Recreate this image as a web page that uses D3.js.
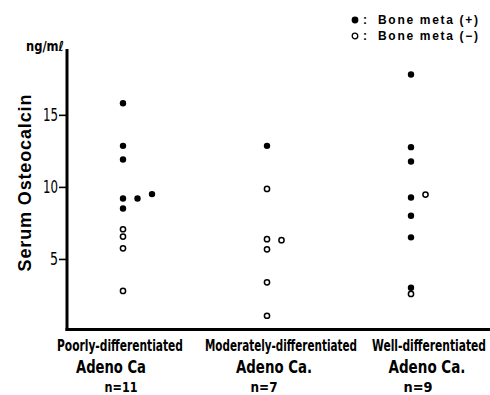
<!DOCTYPE html>
<html>
<head>
<meta charset="utf-8">
<script src="https://cdn.jsdelivr.net/npm/d3@7"></script>
<style>
  body { margin: 0; background: #fff; }
  svg { display: block; }
  .cond { font-family: "Liberation Sans Narrow", "DejaVu Sans Condensed", "Liberation Sans", sans-serif; font-stretch: condensed; }
</style>
</head>
<body>
<div id="chart"></div>
<script>
// categories and tick labels
const categories = ['Poorly', 'Moderately', 'Well'];
const yTicks = [5, 10, 15];

// values (ng/ml); meta 1 = bone meta (+), column = side-by-side slot
const poorlyValues = [15.8, 12.85, 11.9, 9.2, 9.2, 9.5, 8.5, 7.06, 6.55, 5.74, 2.78];
const poorlyMeta   = [1, 1, 1, 1, 1, 1, 1, 0, 0, 0, 0];
const poorlyColumn = [0, 0, 0, 0, 1, 2, 0, 0, 0, 0, 0];

const moderatelyValues = [12.85, 9.86, 6.37, 6.3, 5.67, 3.38, 1.06];
const moderatelyMeta   = [1, 0, 0, 0, 0, 0, 0];
const moderatelyColumn = [0, 0, 0, 1, 0, 0, 0];

const wellValues = [17.8, 12.76, 11.76, 9.26, 9.47, 8.0, 6.5, 3.0, 2.57];
const wellMeta   = [1, 1, 1, 1, 0, 1, 1, 1, 0];
const wellColumn = [0, 0, 0, 0, 1, 0, 0, 0, 0];

const labelLine1 = ['Poorly-differentiated', 'Moderately-differentiated', 'Well-differentiated'];
const labelLine2 = ['Adeno Ca', 'Adeno Ca.', 'Adeno Ca.'];
const labelLine3 = ['n=11', 'n=7', 'n=9'];

const groups = [
  { cat: 'Poorly', values: poorlyValues, meta: poorlyMeta, column: poorlyColumn },
  { cat: 'Moderately', values: moderatelyValues, meta: moderatelyMeta, column: moderatelyColumn },
  { cat: 'Well', values: wellValues, meta: wellMeta, column: wellColumn }
];

const points = [];
groups.forEach(g => {
  g.values.forEach((v, i) => points.push({ cat: g.cat, y: v, meta: g.meta[i], col: g.column[i] }));
});

const width = 490, height = 395;
const colStep = 14.5;

const svg = d3.select('#chart').append('svg')
  .attr('width', width)
  .attr('height', height);

const x = d3.scalePoint()
  .domain(categories)
  .range([123, 411]);

const y = d3.scaleLinear()
  .domain([0, 19.5])
  .range([331, 50]);

// y axis
const yAxis = d3.axisLeft(y)
  .tickValues(yTicks)
  .tickSize(8)
  .tickPadding(1);

const gy = svg.append('g')
  .attr('transform', 'translate(67,0)')
  .call(yAxis);
gy.select('.domain').remove();
gy.selectAll('.tick line').attr('stroke', '#000').attr('stroke-width', 1.6);
gy.selectAll('.tick text')
  .attr('class', 'cond')
  .style('font-size', '17px')
  .attr('fill', '#000')
  .attr('textLength', d => d < 10 ? 8 : 15)
  .attr('lengthAdjust', 'spacingAndGlyphs');

// axis lines
svg.append('line')
  .attr('x1', 67).attr('x2', 67)
  .attr('y1', 49).attr('y2', 331)
  .attr('stroke', '#000').attr('stroke-width', 3);
svg.append('line')
  .attr('x1', 65.5).attr('x2', width)
  .attr('y1', 329.5).attr('y2', 329.5)
  .attr('stroke', '#000').attr('stroke-width', 3);

// unit label
svg.append('text')
  .attr('class', 'cond')
  .attr('x', 26).attr('y', 51)
  .style('font-size', '14px')
  .style('font-weight', 'bold')
  .attr('textLength', 38)
  .attr('lengthAdjust', 'spacingAndGlyphs')
  .text('ng/mℓ');

// y title
svg.append('text')
  .attr('transform', 'translate(31,183) rotate(-90)')
  .attr('text-anchor', 'middle')
  .style('font-family', '"Liberation Sans", Arial, sans-serif')
  .style('font-size', '18px')
  .style('font-weight', 'bold')
  .attr('textLength', 177)
  .text('Serum Osteocalcin');

// points
svg.append('g').selectAll('circle')
  .data(points)
  .join('circle')
  .attr('cx', d => x(d.cat) + d.col * colStep)
  .attr('cy', d => y(d.y))
  .attr('r', d => d.meta ? 3.2 : 2.6)
  .attr('fill', d => d.meta ? '#000' : '#fff')
  .attr('stroke', '#000')
  .attr('stroke-width', d => d.meta ? 0 : 1.5);

// category labels (offsets from the category centre, widths squeezed like the condensed face)
const line1Dx = [-3, 14, 18], line1W = [126, 152, 114];
const line2Dx = [-12, 7, 16], line2W = [70, 76, 77];
const line3Dx = [-2, -3, 7], line3W = [33, 27, 29];
const labels = svg.append('g').attr('class', 'cond')
  .style('font-weight', 'bold');
labels.selectAll('text.l1')
  .data(categories)
  .join('text')
  .attr('class', 'l1')
  .attr('x', (d, i) => x(d) + line1Dx[i])
  .attr('y', 351)
  .attr('text-anchor', 'middle')
  .style('font-size', '15px')
  .attr('textLength', (d, i) => line1W[i])
  .attr('lengthAdjust', 'spacingAndGlyphs')
  .text((d, i) => labelLine1[i]);
labels.selectAll('text.l2')
  .data(categories)
  .join('text')
  .attr('class', 'l2')
  .attr('x', (d, i) => x(d) + line2Dx[i])
  .attr('y', 373)
  .attr('text-anchor', 'middle')
  .style('font-size', '17px')
  .attr('textLength', (d, i) => line2W[i])
  .attr('lengthAdjust', 'spacingAndGlyphs')
  .text((d, i) => labelLine2[i]);
labels.selectAll('text.l3')
  .data(categories)
  .join('text')
  .attr('class', 'l3')
  .attr('x', (d, i) => x(d) + line3Dx[i])
  .attr('y', 392)
  .attr('text-anchor', 'middle')
  .style('font-size', '14px')
  .attr('textLength', (d, i) => line3W[i])
  .attr('lengthAdjust', 'spacingAndGlyphs')
  .text((d, i) => labelLine3[i]);

// legend
const legend = svg.append('g').attr('transform', 'translate(355,20)');
const legendItems = [{ meta: 1, label: 'Bone meta (+)' }, { meta: 0, label: 'Bone meta (−)' }];
legend.selectAll('circle')
  .data(legendItems)
  .join('circle')
  .attr('cx', 0)
  .attr('cy', (d, i) => i * 16)
  .attr('r', d => d.meta ? 3.4 : 2.8)
  .attr('fill', d => d.meta ? '#000' : '#fff')
  .attr('stroke', '#000')
  .attr('stroke-width', d => d.meta ? 0 : 1.3);
legend.selectAll('text.colon')
  .data(legendItems)
  .join('text')
  .attr('class', 'colon')
  .attr('x', 8)
  .attr('y', (d, i) => i * 16 + 4)
  .style('font-family', '"Liberation Sans", Arial, sans-serif')
  .style('font-size', '12px')
  .style('font-weight', 'bold')
  .text(':');
legend.selectAll('text.lab')
  .data(legendItems)
  .join('text')
  .attr('class', 'lab')
  .attr('x', 23)
  .attr('y', (d, i) => i * 16 + 4)
  .style('font-family', '"Liberation Sans", Arial, sans-serif')
  .style('font-size', '12px')
  .style('font-weight', 'bold')
  .attr('textLength', 100)
  .text(d => d.label);
</script>
</body>
</html>
